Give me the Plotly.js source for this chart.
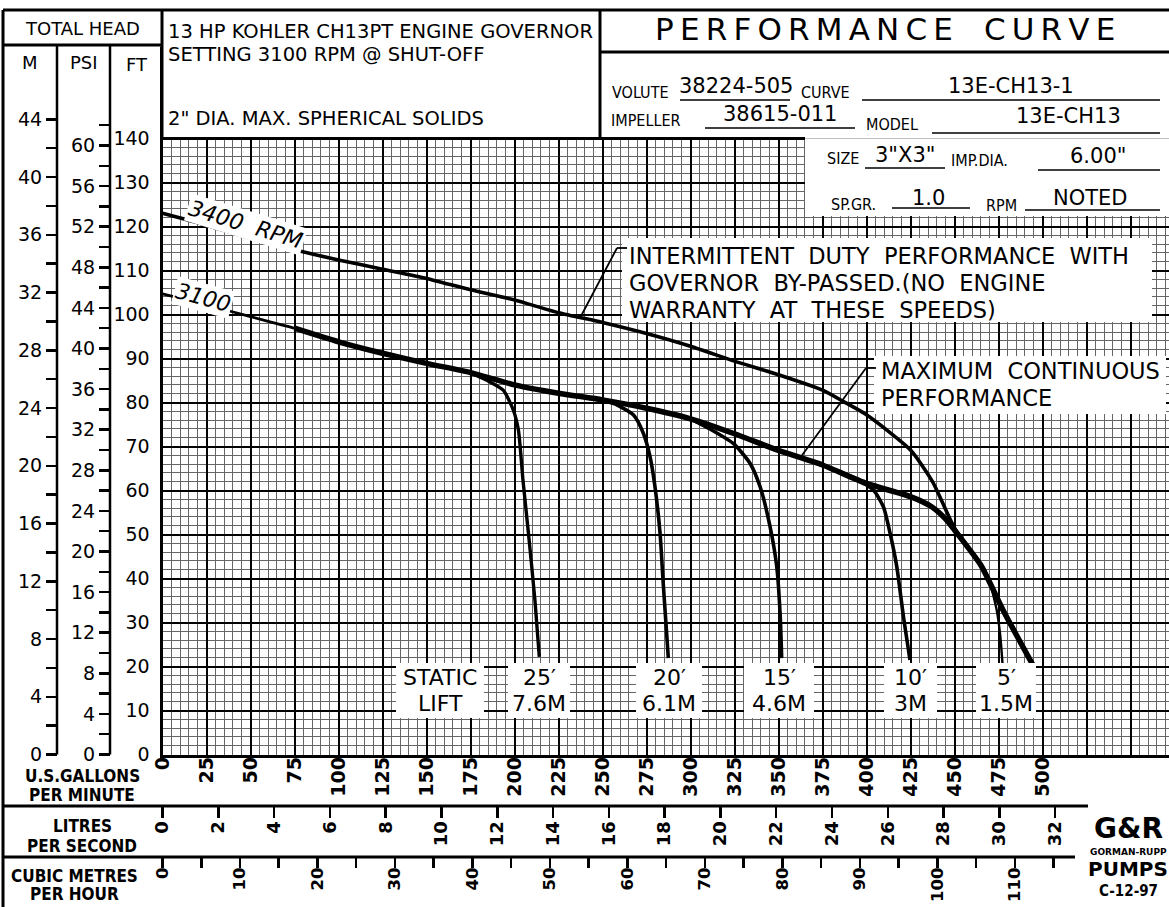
<!DOCTYPE html>
<html><head><meta charset="utf-8">
<script src="https://cdn.plot.ly/plotly-3.0.1.min.js"></script>
<style>html,body{margin:0;padding:0;background:#fff}#chart{width:1169px;height:907px}</style>
</head><body><div id="chart"></div>
<script>
// ---------- DATA ----------
const gpm3400 = [0,25,50,75,100,125,150,175,200,225,250,275,300,325,350,375,387,400,425,437.5,450,465,477.6,494.6];
const ft3400  = [123.0,120.3,117.3,114.7,112.4,110.3,108.2,105.6,103.3,100.4,98.2,95.7,92.8,89.4,86.3,82.8,80.2,77.2,69.2,62.0,51.5,43,32.8,20.3];
const gpm3100 = [0,25,50,75,100,125,150,175,200,225,250,275,300,325,350,375,400,425,437,445,450,465,477.6,494.6];
const ft3100  = [104.7,102.2,99.5,96.9,93.8,91.2,88.9,86.8,84.0,82.1,80.6,78.7,76.3,72.9,69.1,65.8,61.6,58.6,56.3,53.5,51,43,32.8,20.3];
const lift25g = [175,184,193.6,199.3,202.2,204.8,208,211.6,214.1];
const lift25f = [86.8,85.1,82.8,78.3,73.8,62.4,50,35.1,22.2];
const lift20g = [235,256,267.5,273.2,277,279.8,282.7,284.5,287.4];
const lift20f = [81.5,79.8,77.2,73.0,67.7,60.9,50.3,38.9,21.9];
const lift15g = [300,311,324.3,333.8,339.5,345.2,349,351,351.8];
const lift15f = [76.3,74.0,70.7,66.2,60.9,51.8,42.7,31.3,21.9];
const lift10g = [380,392.5,403.9,409.6,413.4,417.2,421,424.7];
const lift10f = [64.8,63.0,60.1,56.3,50.3,42.7,31.3,21.5];
const lift5g  = [470,474,476,477.3];
const lift5f  = [39.5,32.8,27,20.5];

const gpmTicks = [0,25,50,75,100,125,150,175,200,225,250,275,300,325,350,375,400,425,450,475,500,525,550];
const ftTicks  = [0,10,20,30,40,50,60,70,80,90,100,110,120,130,140];
const mTicks   = [0,2,4,6,8,10,12,14,16,18,20,22,24,26,28,30,32,34,36,38,40,42,44];
const psiTicks = [0,2,4,6,8,10,12,14,16,18,20,22,24,26,28,30,32,34,36,38,40,42,44,46,48,50,52,54,56,58,60,62];
const lpsTicks = [0,2,4,6,8,10,12,14,16,18,20,22,24,26,28,30,32];
const m3hTicks = [0,5,10,15,20,25,30,35,40,45,50,55,60,65,70,75,80,85,90,95,100,105,110,115];
const staticLabels = [["STATIC","LIFT"],["25\u2032","7.6M"],["20\u2032","6.1M"],["15\u2032","4.6M"],["10\u2032","3M"],["5\u2032","1.5M"]];

// ---------- GEOMETRY ----------
const W=1169,H=907;
const X=p=>p/W, Y=p=>1-p/H;
const x0=162.5, y0=754.5, pxG=1.76, pxF=4.4, yTopPx=47;
const xMax=(W-x0)/pxG;
const ftMax=(y0-yTopPx)/pxF;
const GPM2LPS=0.0630902, GPM2M3H=0.227125, FT2M=0.3048, FT2PSI=1/2.3067;
const F='DejaVu Sans, sans-serif';
const FC='DejaVu Sans Condensed, DejaVu Sans, sans-serif';
const sp=s=>s.split('').join('\u2009');

function line(t,w,c){return {type:'scatter',mode:'lines',x:t[0],y:t[1],line:{color:c||'#000',width:w,shape:'spline',smoothing:0.6},hoverinfo:'skip',showlegend:false};}
const traces=[
  line([gpm3100,ft3100],2.8),
  line([gpm3100.filter(g=>g>=75),ft3100.filter((f,i)=>gpm3100[i]>=75)],5.5),
  line([lift25g,lift25f],3.4),
  line([lift20g,lift20f],3.6),
  line([lift15g,lift15f],3.6),
  line([lift10g,lift10f],3.6),
  line([lift5g,lift5f],2.4),
  line([gpm3400,ft3400],3.6),
  {type:'scatter',x:[],y:[],xaxis:'x2',yaxis:'y',showlegend:false,hoverinfo:'skip'},
  {type:'scatter',x:[],y:[],xaxis:'x3',yaxis:'y',showlegend:false,hoverinfo:'skip'},
  {type:'scatter',x:[],y:[],xaxis:'x',yaxis:'y2',showlegend:false,hoverinfo:'skip'},
  {type:'scatter',x:[],y:[],xaxis:'x',yaxis:'y3',showlegend:false,hoverinfo:'skip'}
];

const tf={family:F,size:19,color:'#000'};
const tfb={family:F,size:19,color:'#000',weight:'bold'};
const tfb2={family:F,size:18,color:'#000',weight:'bold'};
const tfb3={family:F,size:16.5,color:'#000',weight:'bold'};
const layout={
  width:W,height:H,margin:{l:0,r:0,t:0,b:0},
  paper_bgcolor:'#fff',plot_bgcolor:'rgba(0,0,0,0)',showlegend:false,
  xaxis:{domain:[X(x0),1],range:[0,xMax],tickmode:'array',tickvals:gpmTicks,
    ticktext:gpmTicks.map(v=>v<=500?String(v):''),tickangle:-90,ticks:'',ticklabelstandoff:-8,
    tickfont:tfb,showgrid:true,gridcolor:'#000',gridwidth:2,zeroline:false,
    showline:true,linewidth:3,linecolor:'#000',
    minor:{tickmode:'linear',tick0:0,dtick:5,showgrid:true,gridcolor:'#666',gridwidth:1,ticks:''}},
  yaxis:{domain:[Y(y0),Y(yTopPx)],range:[0,ftMax],tickmode:'array',tickvals:ftTicks,
    ticktext:ftTicks.map(String),ticks:'',ticklabelstandoff:6,tickfont:tf,
    showgrid:true,gridcolor:'#000',gridwidth:2,zeroline:false,showline:true,linewidth:3,linecolor:'#000',
    minor:{tickmode:'linear',tick0:0,dtick:2,showgrid:true,gridcolor:'#666',gridwidth:1,ticks:''}},
  yaxis2:{overlaying:'y',anchor:'free',position:X(57),side:'left',range:[0,ftMax*FT2M],
    tickmode:'array',tickvals:mTicks,ticktext:mTicks.map(v=>v%4===0?String(v):''),
    ticks:'outside',ticklen:11,tickwidth:2.5,tickcolor:'#000',tickfont:tf,showgrid:false,zeroline:false,showline:false},
  yaxis3:{overlaying:'y',anchor:'free',position:X(110),side:'left',range:[0,ftMax*FT2PSI],
    tickmode:'array',tickvals:psiTicks,ticktext:psiTicks.map(v=>(v%4===0&&v<=60)?String(v):''),
    ticks:'outside',ticklen:11,tickwidth:2.5,tickcolor:'#000',tickfont:tf,showgrid:false,zeroline:false,showline:false},
  xaxis2:{overlaying:'x',anchor:'free',position:Y(806),side:'bottom',range:[0,xMax*GPM2LPS],
    tickmode:'array',tickvals:lpsTicks,ticktext:lpsTicks.map(String),tickangle:-90,ticklabelstandoff:-4,
    ticks:'outside',ticklen:11,tickwidth:2.5,tickcolor:'#000',tickfont:tfb2,showgrid:false,zeroline:false,showline:false},
  xaxis3:{overlaying:'x',anchor:'free',position:Y(857),side:'bottom',range:[0,xMax*GPM2M3H],
    tickmode:'array',tickvals:m3hTicks,ticktext:m3hTicks.map(v=>v%10===0?String(v):''),tickangle:-90,ticklabelstandoff:-7,
    ticks:'outside',ticklen:10,tickwidth:2.5,tickcolor:'#000',tickfont:tfb3,showgrid:false,zeroline:false,showline:false},
  shapes:[],annotations:[]
};
const S=layout.shapes, A=layout.annotations;
function rect(x1,y1,x2,y2){S.push({type:'rect',xref:'paper',yref:'paper',x0:X(x1),x1:X(x2),y0:Y(y2),y1:Y(y1),fillcolor:'#fff',line:{width:0},layer:'above'});}
function seg(x1,y1,x2,y2,w){S.push({type:'line',xref:'paper',yref:'paper',x0:X(x1),x1:X(x2),y0:Y(y1),y1:Y(y2),line:{color:'#000',width:w||2.5},layer:'above'});}
function txt(t,x,y,size,o){o=o||{};A.push({xref:'paper',yref:'paper',x:X(x),y:Y(y),text:t,showarrow:false,
  xanchor:o.xa||'left',yanchor:'middle',textangle:o.ang||0,bgcolor:o.bg||'rgba(0,0,0,0)',borderpad:o.pad||0,
  font:{family:o.fam||F,size:size,color:'#000',weight:o.bold?'bold':'normal',style:o.it?'italic':'normal'}});}

// header white cover
rect(162.5,0,1169,138.5);
rect(805,138.5,1169,216);
rect(0,0,1169,10);
// frame lines
seg(3,10,1169,10,3);
seg(3,10,3,907,3);
seg(3,45,162,45,3);
seg(57,45,57,754.5,2.5);
seg(110,45,110,754.5,2.5);
seg(162,10,162,138.5,3);
seg(600,10,600,138.5,3);
seg(600,52,1169,52,3);
seg(162,138.5,805,138.5,3);
seg(3,806,1088,806,3);
seg(3,857,1075,857,3);
// underlines
seg(680,100,790,100,1.6); seg(862,100,1160,100,1.6);
seg(705,128,855,128,1.6); seg(932,133,1160,133,1.6);
seg(865,168,945,168,1.6); seg(1038,170,1160,170,1.6);
seg(892,208,970,208,1.6); seg(1025,210,1160,210,1.6);

// header texts
txt('TOTAL HEAD',82,28,18,{xa:'center'});
txt('M',30,63,18,{xa:'center'}); txt('PSI',84,63,18,{xa:'center'}); txt('FT',137,64,18,{xa:'center'});
txt('13 HP KOHLER CH13PT ENGINE GOVERNOR',167,31,19.5);
txt('SETTING 3100 RPM @ SHUT-OFF',167,55,19.5);
txt('2" DIA. MAX. SPHERICAL SOLIDS',167,118,19.5);
txt(sp('PERFORMANCE')+'\u2003'+sp('CURVE'),885,29,31,{xa:'center'});
txt('VOLUTE',611,92,16,{fam:FC}); txt('38224-505',736,86,21,{xa:'center'});
txt('CURVE',800,92,16,{fam:FC}); txt('13E-CH13-1',1011,86,21,{xa:'center'});
txt('IMPELLER',610,120,16,{fam:FC}); txt('38615-011',780,114,21,{xa:'center'});
txt('MODEL',865,124,16,{fam:FC}); txt('13E-CH13',1068,116,21,{xa:'center'});
txt('SIZE',826,159,16,{fam:FC}); txt('3"X3"',905,155,21,{xa:'center'});
txt('IMP.DIA.',950,161,16,{fam:FC}); txt('6.00"',1098,156,21,{xa:'center'});
txt('SP.GR.',830,204,16,{fam:FC}); txt('1.0',928,198,21,{xa:'center'});
txt('RPM',985,205,16,{fam:FC}); txt('NOTED',1090,198,21,{xa:'center'});

// bottom left labels
txt('U.S.GALLONS',82,776,17,{xa:'center',fam:FC,bold:true}); txt('PER MINUTE',82,795,17,{xa:'center',fam:FC,bold:true});
txt('LITRES',82,826,17,{xa:'center',fam:FC,bold:true}); txt('PER SECOND',82,846,17,{xa:'center',fam:FC,bold:true});
txt('CUBIC METRES',74,876,17,{xa:'center',fam:FC,bold:true}); txt('PER HOUR',74,894,17,{xa:'center',fam:FC,bold:true});
// logo
txt('G&amp;R',1128,828,28,{xa:'center',bold:true});
txt('GORMAN-RUPP',1128,852,9,{xa:'center',bold:true});
txt('PUMPS',1128,869,20,{xa:'center',bold:true});
txt('C-12-97',1128,891,15,{xa:'center',fam:FC,bold:true});

// in-plot boxes
rect(622,238,1152,322);
txt('INTERMITTENT  DUTY  PERFORMANCE  WITH',628,256,22.5);
txt('GOVERNOR  BY-PASSED.(NO  ENGINE',628,283,22.5);
txt('WARRANTY  AT  THESE  SPEEDS)',628,310,22.5);
seg(580,318,617,248,1.8); seg(617,248,627,248,1.8);
rect(874,356,1166,414);
txt('MAXIMUM  CONTINUOUS',880,371,22.5);
txt('PERFORMANCE',880,398,22.5);
seg(800,458,866,368,1.8); seg(866,368,876,368,1.8);
const boxes=[[396,484],[508,570],[636,702],[744,814],[884,937],[976,1036]];
boxes.forEach((b,i)=>{rect(b[0],663,b[1],718);
  txt(staticLabels[i][0],(b[0]+b[1])/2,677,22,{xa:'center'});
  txt(staticLabels[i][1],(b[0]+b[1])/2,703,22,{xa:'center'});});
txt('3400  RPM',246,224,22,{xa:'center',ang:17,bg:'#fff',it:true,pad:1});
txt('3100',203,298,22,{xa:'center',ang:15,bg:'#fff',it:true,pad:1});

Plotly.newPlot('chart',traces,layout,{staticPlot:true});
</script></body></html>
